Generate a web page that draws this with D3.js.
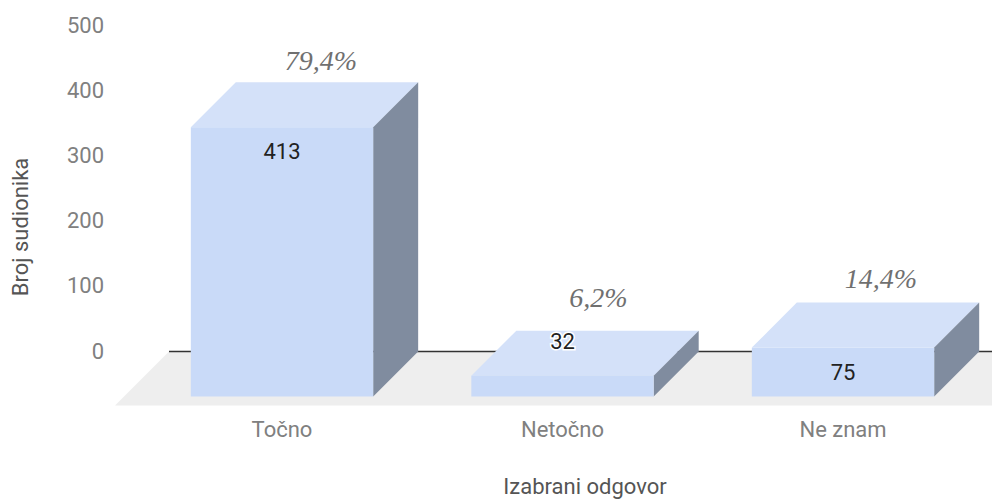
<!DOCTYPE html>
<html><head><meta charset="utf-8">
<script src="https://cdn.jsdelivr.net/npm/d3@7"></script>
<style>
html,body{margin:0;padding:0;background:#fff}
svg{display:block}
text{font-family:Roboto,sans-serif}
.axis text{fill:#808080;font-size:22px}
.axis path,.axis line{display:none}
</style></head><body>
<svg id="c" width="992" height="500"></svg>
<script>
const categories = ["Točno", "Netočno", "Ne znam"];
const values = [413, 32, 75];
const percents = ["79,4%", "6,2%", "14,4%"];
const yTicks = [0, 100, 200, 300, 400, 500];
const yTitle = "Broj sudionika";
const xTitle = "Izabrani odgovor";

const depth = 45;
const pctDx = [39, 36, 38];
const pctDy = [-21, -33, -24];

const svg = d3.select("#c");
const y = d3.scaleLinear().domain([0, 500]).range([351.5, 25.5]);
const x = d3.scaleBand().domain(categories).range([141.75, 983.25]).paddingInner(0.35).paddingOuter(0.175);
const baseY = y(0) + depth;

// floor
const line = d3.line();
svg.append("path")
  .attr("d", line([[169, y(0)], [992, y(0)], [992, baseY + 9], [115, baseY + 9]]) + "Z")
  .attr("fill", "#eeeeee");
svg.append("line").attr("x1", 169).attr("x2", 992).attr("y1", y(0)).attr("y2", y(0))
  .attr("stroke", "#333").attr("stroke-width", 1.4);

// axes
svg.append("g").attr("class", "axis").attr("transform", "translate(110,0)")
  .call(d3.axisLeft(y).tickValues(yTicks).tickSize(0).tickPadding(6))
  .call(g => g.selectAll("text").attr("dy", "0.3em"));
svg.append("g").attr("class", "axis").attr("transform", `translate(0,${baseY})`)
  .call(d3.axisBottom(x).tickSize(0).tickPadding(25))
  .call(g => g.selectAll("text").attr("dy", "0.71em"));

// bars
const bars = svg.append("g").selectAll("g")
  .data(categories.map((c, i) => ({c, v: values[i], p: percents[i], i})))
  .join("g");
const w = x.bandwidth();
const frontTop = d => y(d.v) + depth;
bars.append("path").attr("fill", "#d4e1f9").attr("d", d => line([
  [x(d.c), frontTop(d)], [x(d.c) + w, frontTop(d)],
  [x(d.c) + w + depth, frontTop(d) - depth], [x(d.c) + depth, frontTop(d) - depth]]) + "Z");
bars.append("path").attr("fill", "#808c9f").attr("d", d => line([
  [x(d.c) + w, frontTop(d)], [x(d.c) + w + depth, frontTop(d) - depth],
  [x(d.c) + w + depth, baseY - depth], [x(d.c) + w, baseY]]) + "Z");
bars.append("rect").attr("fill", "#c9daf8")
  .attr("x", d => x(d.c)).attr("y", frontTop).attr("width", w).attr("height", d => baseY - frontTop(d));

// value labels: inside the front face, or on the top face when it is too short
bars.append("text")
  .attr("x", d => x(d.c) + w / 2)
  .attr("y", d => baseY - frontTop(d) < 30 ? frontTop(d) - 27 : frontTop(d) + 32)
  .attr("text-anchor", "middle").attr("font-size", 22).attr("fill", "#222")
  .attr("stroke", d => baseY - frontTop(d) < 30 ? "#fff" : "none").attr("stroke-width", 3)
  .attr("paint-order", "stroke")
  .text(d => d.v);

// percentages
bars.append("text")
  .attr("x", d => x(d.c) + w / 2 + pctDx[d.i])
  .attr("y", d => frontTop(d) - depth + pctDy[d.i] + 9)
  .attr("text-anchor", "middle")
  .style("font-family", "'Liberation Serif'").style("font-style", "italic").attr("font-size", 28).attr("fill", "#707070")
  .text(d => d.p);

// titles
svg.append("text").attr("transform", "translate(28,227) rotate(-90)")
  .attr("text-anchor", "middle").attr("font-size", 22).attr("fill", "#555").text(yTitle);
svg.append("text").attr("x", 585).attr("y", 494)
  .attr("text-anchor", "middle").attr("font-size", 22).attr("fill", "#555").text(xTitle);
</script></body></html>
